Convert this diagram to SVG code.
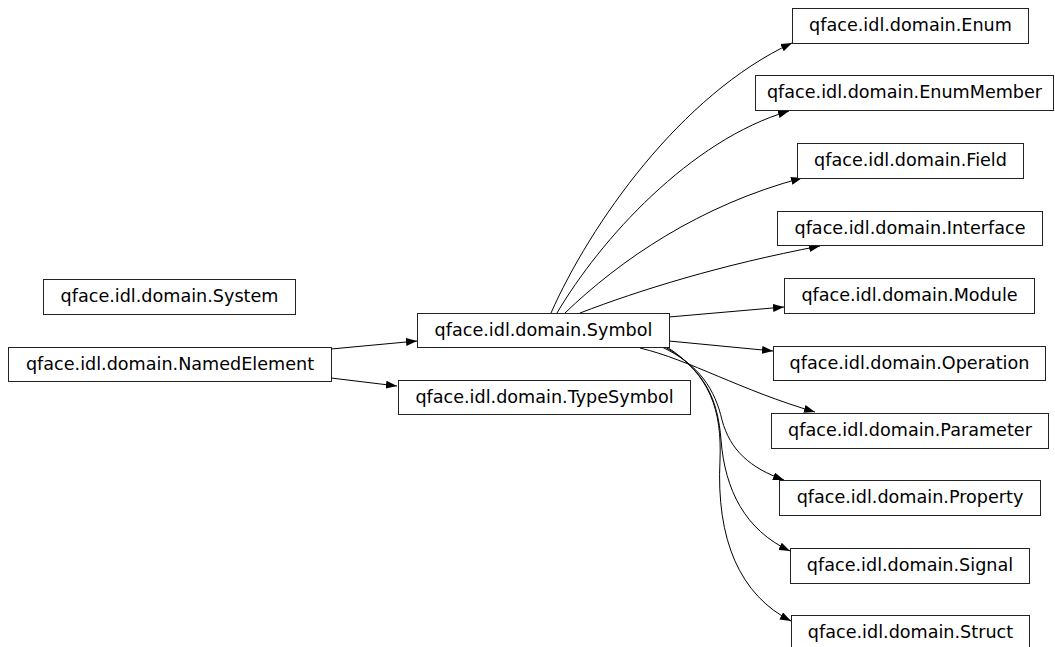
<svg xmlns="http://www.w3.org/2000/svg" width="1055" height="647" viewBox="0 0 1055 647">
<style>
.n rect{fill:#fff;stroke:#222;stroke-width:1}
.n text{font-family:"DejaVu Sans",sans-serif;font-size:17.6px;fill:#000;text-anchor:middle}
.e path{fill:none;stroke:#000;stroke-width:1}
</style>
<defs>
<marker id="ah" markerUnits="userSpaceOnUse" markerWidth="11" markerHeight="8" refX="11" refY="4" orient="auto">
<path d="M0,0 L11,4 L0,8 z" fill="#000"/>
</marker>
</defs>
<rect width="1055" height="647" fill="#fff"/>
<g class="e" id="connectors">
<path marker-end="url(#ah)" d="M331,349 L417,341"/>
<path marker-end="url(#ah)" d="M331,378 L397,386"/>
<path marker-end="url(#ah)" d="M551,313 C590,225 680,95 792,43"/>
<path marker-end="url(#ah)" d="M557,313 C600,240 690,140 789,111"/>
<path marker-end="url(#ah)" d="M565,313 C620,260 700,205 802,178"/>
<path marker-end="url(#ah)" d="M580,313 C640,290 720,265 820,246"/>
<path marker-end="url(#ah)" d="M669,317 L784,307"/>
<path marker-end="url(#ah)" d="M669,341 L773,351"/>
<path marker-end="url(#ah)" d="M640,348 C690,360 740,390 815,412"/>
<path marker-end="url(#ah)" d="M662,347 C700,365 715,390 722,420 C730,450 750,468 784,480"/>
<path marker-end="url(#ah)" d="M665,347 C705,370 718,400 721,440 C725,490 745,530 790,551"/>
<path marker-end="url(#ah)" d="M667,347 C710,375 722,410 720,460 C716,540 740,595 791,621"/>
</g>
<g class="n" id="System"><rect x="43.5" y="279.5" width="252" height="35"/><text x="169.5" y="302">qface.idl.domain.System</text></g>
<g class="n" id="NamedElement"><rect x="8.5" y="347.5" width="323" height="34"/><text x="170" y="370">qface.idl.domain.NamedElement</text></g>
<g class="n" id="Symbol"><rect x="417.5" y="313.5" width="252" height="34"/><text x="543.5" y="336">qface.idl.domain.Symbol</text></g>
<g class="n" id="TypeSymbol"><rect x="398.5" y="380.5" width="292" height="34"/><text x="544.5" y="403">qface.idl.domain.TypeSymbol</text></g>
<g class="n" id="Enum"><rect x="792.5" y="8.5" width="236" height="35"/><text x="910.5" y="31">qface.idl.domain.Enum</text></g>
<g class="n" id="EnumMember"><rect x="755.5" y="75.5" width="298" height="35"/><text x="904.5" y="98">qface.idl.domain.EnumMember</text></g>
<g class="n" id="Field"><rect x="797.5" y="143.5" width="226" height="35"/><text x="910.5" y="166">qface.idl.domain.Field</text></g>
<g class="n" id="Interface"><rect x="777.5" y="211.5" width="265" height="34"/><text x="910" y="234">qface.idl.domain.Interface</text></g>
<g class="n" id="Module"><rect x="784.5" y="278.5" width="250" height="35"/><text x="909.5" y="301">qface.idl.domain.Module</text></g>
<g class="n" id="Operation"><rect x="773.5" y="346.5" width="272" height="34"/><text x="909.5" y="369">qface.idl.domain.Operation</text></g>
<g class="n" id="Parameter"><rect x="771.5" y="413.5" width="277" height="35"/><text x="910" y="436">qface.idl.domain.Parameter</text></g>
<g class="n" id="Property"><rect x="779.5" y="480.5" width="261" height="35"/><text x="910" y="503">qface.idl.domain.Property</text></g>
<g class="n" id="Signal"><rect x="790.5" y="548.5" width="239" height="35"/><text x="910" y="571">qface.idl.domain.Signal</text></g>
<g class="n" id="Struct"><rect x="791.5" y="615.5" width="238" height="34"/><text x="910.5" y="638">qface.idl.domain.Struct</text></g>
</svg>
